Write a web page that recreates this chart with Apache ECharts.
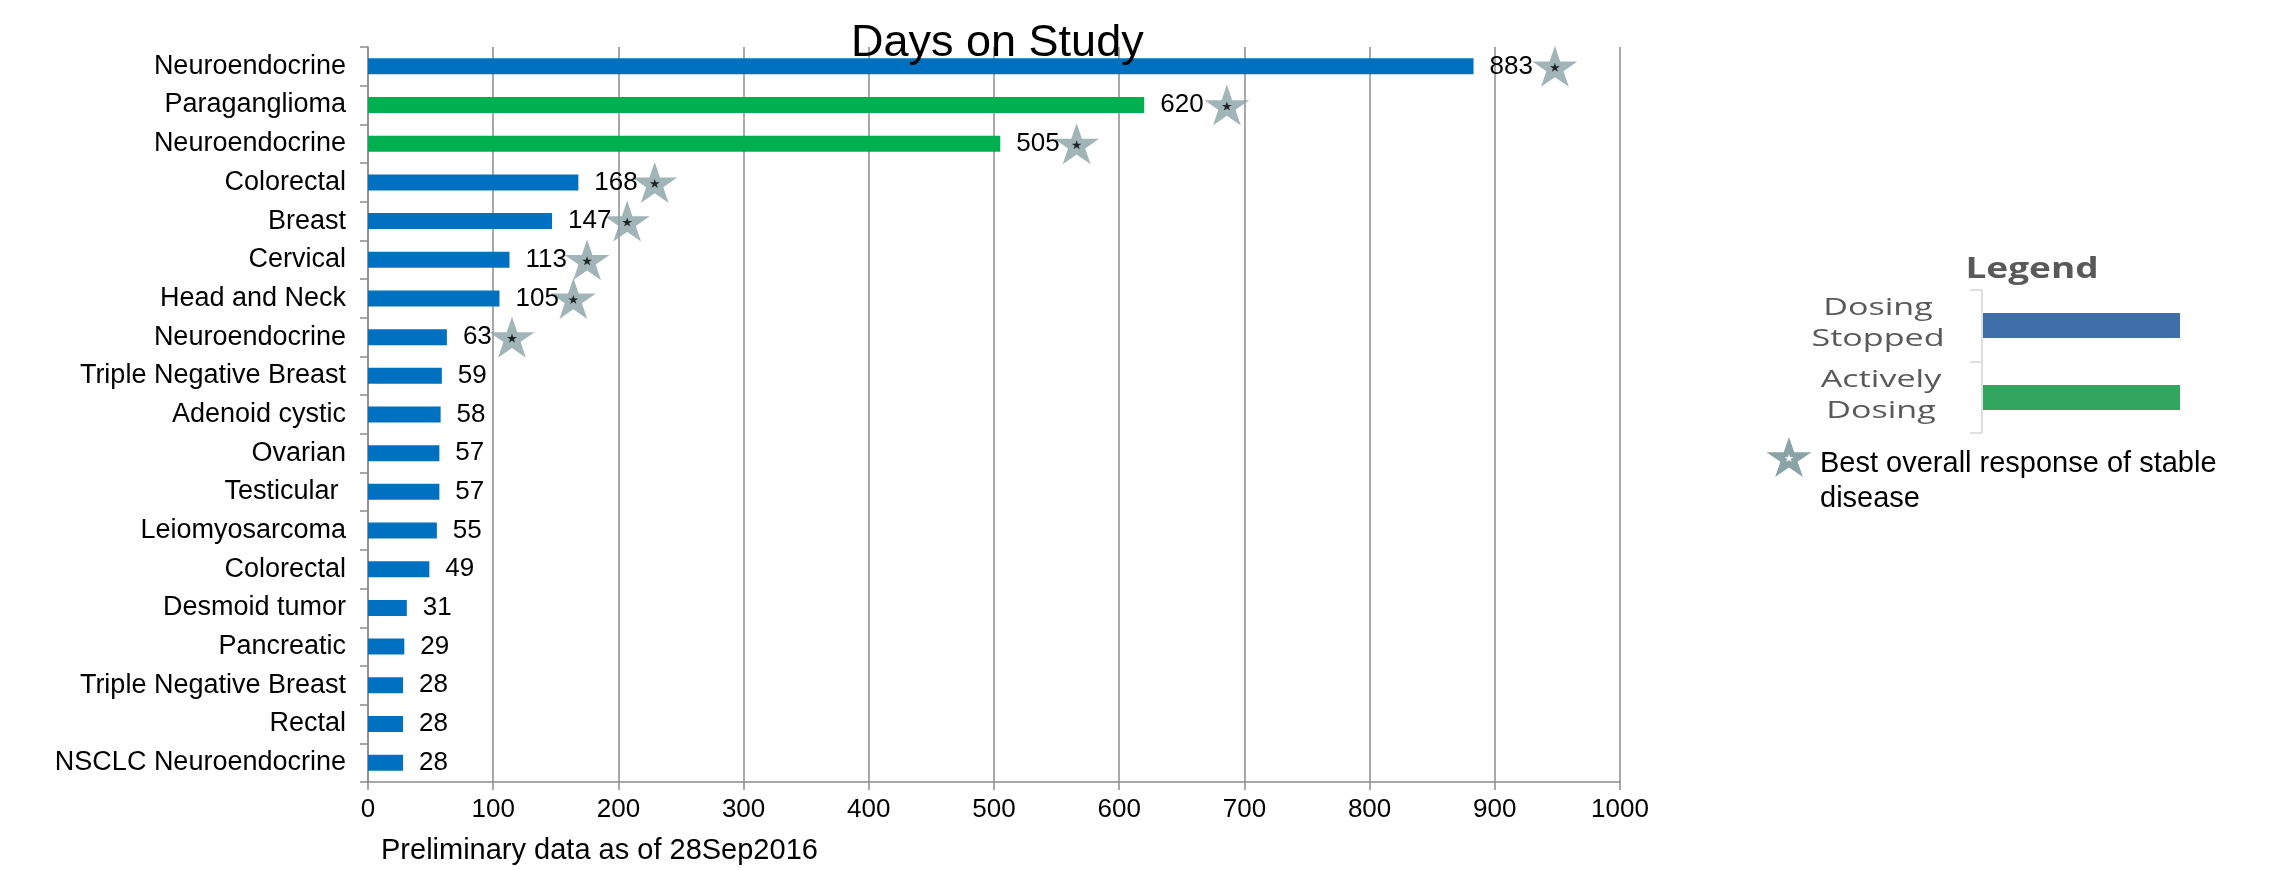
<!DOCTYPE html>
<html>
<head>
<meta charset="utf-8">
<title>Days on Study</title>
<script src="https://cdn.jsdelivr.net/npm/echarts@6/dist/echarts.min.js"></script>
<style>
  html, body { margin: 0; padding: 0; background: #ffffff; }
  #chart { width: 2296px; height: 870px; }
</style>
</head>
<body>
<div id="chart"></div>
<script>
// Tumour type for each patient, top row first
const categories = [
  'Neuroendocrine', 'Paraganglioma', 'Neuroendocrine', 'Colorectal', 'Breast',
  'Cervical', 'Head and Neck', 'Neuroendocrine', 'Triple Negative Breast',
  'Adenoid cystic', 'Ovarian', 'Testicular ', 'Leiomyosarcoma', 'Colorectal',
  'Desmoid tumor', 'Pancreatic', 'Triple Negative Breast', 'Rectal',
  'NSCLC Neuroendocrine'
];

// Days on study per patient
const daysOnStudy = [883, 620, 505, 168, 147, 113, 105, 63, 59, 58, 57, 57, 55, 49, 31, 29, 28, 28, 28];

// Dosing status per patient: 'active' = actively dosing, 'stopped' = dosing stopped
const dosingStatus = [
  'stopped', 'active', 'active', 'stopped', 'stopped', 'stopped', 'stopped', 'stopped',
  'stopped', 'stopped', 'stopped', 'stopped', 'stopped', 'stopped', 'stopped', 'stopped',
  'stopped', 'stopped', 'stopped'
];

// Where the stable-disease star sits on the days axis (null = no star)
const stableDiseaseStar = [948, 686, 566, 229, 207, 175, 164, 115,
  null, null, null, null, null, null, null, null, null, null, null];

// Days axis ticks
const xTicks = [0, 100, 200, 300, 400, 500, 600, 700, 800, 900, 1000];

const COLOR_STOPPED = '#0070c0';
const COLOR_ACTIVE = '#00b050';
const STAR_COLOR = '#8aa3a6';
const GRID_COLOR = '#8c8c8c';
const FONT = "'Liberation Sans', Arial, sans-serif";
const LEGEND_FONT = "'Open Sans', 'DejaVu Sans', sans-serif";

// Five-pointed star outline (outer radius 100, inner ratio 0.382)
const STAR_PTS = [[100, 0], [122.45, 69.1], [195.11, 69.1], [136.33, 111.8], [158.78, 180.9],
  [100, 138.2], [41.22, 180.9], [63.67, 111.8], [4.89, 69.1], [77.55, 69.1]];
const STAR_PATH = 'path://M' + STAR_PTS.map(p => p[0] + ' ' + p[1]).join('L') + 'Z';

// Star polygon of a given box size centred on (cx, cy), for the legend key
function starPolygon(cx, cy, w, h) {
  const sx = w / 190.22, sy = h / 180.9;
  return STAR_PTS.map(p => [cx + (p[0] - 100) * sx, cy + (p[1] - 90.45) * sy]);
}

const barData = daysOnStudy.map((v, i) => ({
  value: v,
  itemStyle: { color: dosingStatus[i] === 'active' ? COLOR_ACTIVE : COLOR_STOPPED }
}));

const starData = [];
stableDiseaseStar.forEach((x, i) => { if (x != null) starData.push([x, i]); });

const chart = echarts.init(document.getElementById('chart'), null, { renderer: 'canvas' });

chart.setOption({
  backgroundColor: '#ffffff',
  animation: false,
  title: [
    {
      text: 'Days on Study',
      left: 846,
      top: 16,
      textStyle: { fontFamily: FONT, fontSize: 45, fontWeight: 'normal', color: '#000000' }
    },
    {
      text: 'Preliminary data as of 28Sep2016',
      left: 381,
      top: 836,
      padding: 0,
      textStyle: { fontFamily: FONT, fontSize: 29, fontWeight: 'normal', color: '#000000' }
    }
  ],
  grid: { left: 368, right: 676, top: 47, bottom: 88, containLabel: false },
  xAxis: {
    type: 'value',
    min: xTicks[0],
    max: xTicks[xTicks.length - 1],
    interval: xTicks[1] - xTicks[0],
    axisLine: { show: true, lineStyle: { color: GRID_COLOR, width: 1.5 } },
    axisTick: { show: true, length: 8, lineStyle: { color: GRID_COLOR, width: 1.5 } },
    axisLabel: { fontFamily: FONT, fontSize: 26, color: '#000000', margin: 15, formatter: v => String(v) },
    splitLine: { show: true, lineStyle: { color: GRID_COLOR, width: 1.5 } }
  },
  yAxis: {
    type: 'category',
    data: categories,
    inverse: true,
    axisLine: { show: true, lineStyle: { color: GRID_COLOR, width: 1.5 } },
    axisTick: { show: true, length: 8, lineStyle: { color: GRID_COLOR, width: 1.5 } },
    axisLabel: { fontFamily: FONT, fontSize: 27, color: '#000000', margin: 22, interval: 0 },
    splitLine: { show: false }
  },
  series: [
    {
      name: 'Stable disease',
      type: 'scatter',
      data: starData,
      symbol: STAR_PATH,
      symbolSize: [45, 41],
      itemStyle: { color: STAR_COLOR },
      z: 1,
      silent: true
    },
    {
      name: 'Stable disease centre',
      type: 'scatter',
      data: starData,
      symbol: STAR_PATH,
      symbolSize: [10, 9],
      symbolOffset: [0, 1],
      itemStyle: { color: '#000000' },
      z: 2,
      silent: true
    },
    {
      name: 'Days on Study',
      type: 'bar',
      data: barData,
      barWidth: 16,
      z: 3,
      label: {
        show: true,
        position: 'right',
        distance: 16,
        fontFamily: FONT,
        fontSize: 26,
        color: '#000000'
      }
    }
  ],
  graphic: [
    // Legend heading
    {
      type: 'text', x: 2032, y: 256, scaleX: 1.32,
      style: { text: 'Legend', font: "bold 28px " + LEGEND_FONT, fill: '#595959', align: 'center', verticalAlign: 'top' }
    },
    // Bracket separating labels from swatches
    { type: 'line', shape: { x1: 1982, y1: 290, x2: 1982, y2: 433 }, style: { stroke: '#d4d4d4', lineWidth: 1.5 } },
    { type: 'line', shape: { x1: 1970, y1: 290, x2: 1982, y2: 290 }, style: { stroke: '#d4d4d4', lineWidth: 1.5 } },
    { type: 'line', shape: { x1: 1970, y1: 362, x2: 1982, y2: 362 }, style: { stroke: '#d4d4d4', lineWidth: 1.5 } },
    { type: 'line', shape: { x1: 1970, y1: 433, x2: 1982, y2: 433 }, style: { stroke: '#d4d4d4', lineWidth: 1.5 } },
    // Swatches
    { type: 'rect', shape: { x: 1983, y: 313, width: 197, height: 25 }, style: { fill: '#3f6ea9' } },
    { type: 'rect', shape: { x: 1983, y: 385, width: 197, height: 25 }, style: { fill: '#32a65e' } },
    // Swatch labels
    {
      type: 'text', x: 1878, y: 293, scaleX: 1.42,
      style: { text: 'Dosing\nStopped', font: "24px " + LEGEND_FONT, lineHeight: 31, fill: '#595959', align: 'center', verticalAlign: 'top' }
    },
    {
      type: 'text', x: 1881, y: 365, scaleX: 1.42,
      style: { text: 'Actively\nDosing', font: "24px " + LEGEND_FONT, lineHeight: 31, fill: '#595959', align: 'center', verticalAlign: 'top' }
    },
    // Stable disease marker key
    { type: 'polygon', shape: { points: starPolygon(1789, 457, 45, 40) }, style: { fill: STAR_COLOR } },
    { type: 'polygon', shape: { points: starPolygon(1789, 458, 9, 8) }, style: { fill: '#ffffff' } },
    {
      type: 'text', x: 1820, y: 446,
      style: { text: 'Best overall response of stable\ndisease', font: "29px " + FONT, lineHeight: 35, fill: '#000000', align: 'left', verticalAlign: 'top' }
    }
  ]
});
</script>
</body>
</html>
